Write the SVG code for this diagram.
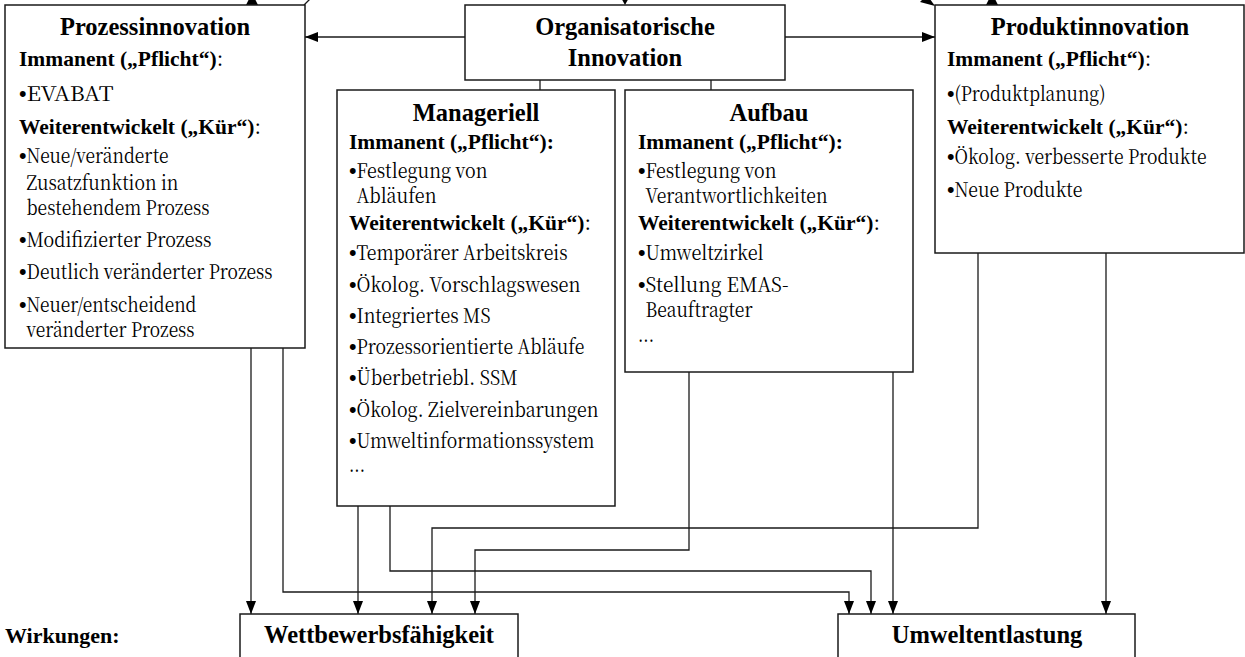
<svg xmlns="http://www.w3.org/2000/svg" width="1245" height="657" viewBox="0 0 1245 657">
<style>
.box{fill:#fff;stroke:#1a1a1a;stroke-width:1.5}
.ln{fill:none;stroke:#1a1a1a;stroke-width:1.3}
.t{font-family:"Liberation Serif",serif;font-size:24.5px;font-weight:bold;text-anchor:middle}
.h{font-family:"Liberation Serif",serif;font-size:21.5px;font-weight:bold}
.b{font-family:"Noto Serif CJK SC","Liberation Serif",serif;font-size:20px;font-weight:400}
.bu{font-family:"Liberation Sans",sans-serif;font-size:21.5px}
.n{font-family:"Noto Serif CJK SC","Liberation Serif",serif;font-weight:400;font-size:20px}
</style>
<defs>
<marker id="ah" markerWidth="13" markerHeight="10" refX="13" refY="5" orient="auto" markerUnits="userSpaceOnUse">
<path d="M0,0 L13,5 L0,10 Z" fill="#000"/>
</marker>
</defs>
<rect width="1245" height="657" fill="#fff"/>

<g id="connectors">
<polygon points="246,5 258,5 252,-7" fill="#000"/>
<line class="ln" x1="304" y1="5" x2="312" y2="-3"/>
<polygon points="619,-6 631,-6 625,5" fill="#000"/>
<polygon points="986,5 998,5 992,-7" fill="#000"/>
<polygon points="935,6 920,2 927,-5" fill="#000"/>
<line class="ln" x1="465" y1="37" x2="305" y2="37" marker-end="url(#ah)"/>
<line class="ln" x1="785" y1="37" x2="935" y2="37" marker-end="url(#ah)"/>
<line class="ln" x1="540" y1="80" x2="540" y2="90"/>
<line class="ln" x1="711" y1="80" x2="711" y2="90"/>
<path class="ln" d="M251,348 V614" marker-end="url(#ah)"/>
<path class="ln" d="M358,506 V614" marker-end="url(#ah)"/>
<path class="ln" d="M978,253 V528 H432 V614" marker-end="url(#ah)"/>
<path class="ln" d="M689,372 V550 H475 V614" marker-end="url(#ah)"/>
<path class="ln" d="M283,348 V592 H849 V614" marker-end="url(#ah)"/>
<path class="ln" d="M390,506 V571 H871 V614" marker-end="url(#ah)"/>
<path class="ln" d="M893,372 V614" marker-end="url(#ah)"/>
<path class="ln" d="M1106,253 V614" marker-end="url(#ah)"/>
</g>

<g id="prozess">
<rect class="box" x="5" y="5" width="300" height="343"/>
<text class="t" x="155" y="35">Prozessinnovation</text>
<text class="h" x="19" y="66">Immanent („Pflicht“)<tspan class="n">:</tspan></text>
<text class="b"><tspan class="bu" x="19" y="101">•</tspan><tspan x="26.5" y="101" textLength="87" lengthAdjust="spacingAndGlyphs">EVABAT</tspan></text>
<text class="h" x="19" y="134">Weiterentwickelt („Kür“)<tspan class="n">:</tspan></text>
<text class="b"><tspan class="bu" x="19" y="163">•</tspan><tspan x="26.5" y="163" textLength="142" lengthAdjust="spacingAndGlyphs">Neue/veränderte</tspan><tspan x="26.5" y="190" textLength="152" lengthAdjust="spacingAndGlyphs">Zusatzfunktion in</tspan><tspan x="26.5" y="215" textLength="183" lengthAdjust="spacingAndGlyphs">bestehendem Prozess</tspan></text>
<text class="b"><tspan class="bu" x="19" y="247">•</tspan><tspan x="26.5" y="247" textLength="185" lengthAdjust="spacingAndGlyphs">Modifizierter Prozess</tspan></text>
<text class="b"><tspan class="bu" x="19" y="279">•</tspan><tspan x="26.5" y="279" textLength="246" lengthAdjust="spacingAndGlyphs">Deutlich veränderter Prozess</tspan></text>
<text class="b"><tspan class="bu" x="19" y="312">•</tspan><tspan x="26.5" y="312" textLength="170" lengthAdjust="spacingAndGlyphs">Neuer/entscheidend</tspan><tspan x="26.5" y="337" textLength="168" lengthAdjust="spacingAndGlyphs">veränderter Prozess</tspan></text>
</g>

<g id="org">
<rect class="box" x="465" y="5" width="320" height="75"/>
<text class="t" x="625" y="35">Organisatorische</text>
<text class="t" x="625" y="66">Innovation</text>
</g>

<g id="manageriell">
<rect class="box" x="337" y="90" width="278" height="416"/>
<text class="t" x="476" y="121">Manageriell</text>
<text class="h" x="349" y="149">Immanent („Pflicht“):</text>
<text class="b"><tspan class="bu" x="349" y="178">•</tspan><tspan x="356.5" y="178" textLength="131" lengthAdjust="spacingAndGlyphs">Festlegung von</tspan><tspan x="356.5" y="203" textLength="80" lengthAdjust="spacingAndGlyphs">Abläufen</tspan></text>
<text class="h" x="349" y="230">Weiterentwickelt („Kür“)<tspan class="n">:</tspan></text>
<text class="b"><tspan class="bu" x="349" y="260">•</tspan><tspan x="356.5" y="260" textLength="211" lengthAdjust="spacingAndGlyphs">Temporärer Arbeitskreis</tspan></text>
<text class="b"><tspan class="bu" x="349" y="292">•</tspan><tspan x="356.5" y="292" textLength="224" lengthAdjust="spacingAndGlyphs">Ökolog. Vorschlagswesen</tspan></text>
<text class="b"><tspan class="bu" x="349" y="323">•</tspan><tspan x="356.5" y="323" textLength="134" lengthAdjust="spacingAndGlyphs">Integriertes MS</tspan></text>
<text class="b"><tspan class="bu" x="349" y="354">•</tspan><tspan x="356.5" y="354" textLength="228" lengthAdjust="spacingAndGlyphs">Prozessorientierte Abläufe</tspan></text>
<text class="b"><tspan class="bu" x="349" y="385">•</tspan><tspan x="356.5" y="385" textLength="161" lengthAdjust="spacingAndGlyphs">Überbetriebl. SSM</tspan></text>
<text class="b"><tspan class="bu" x="349" y="417">•</tspan><tspan x="356.5" y="417" textLength="242" lengthAdjust="spacingAndGlyphs">Ökolog. Zielvereinbarungen</tspan></text>
<text class="b"><tspan class="bu" x="349" y="448">•</tspan><tspan x="356.5" y="448" textLength="238" lengthAdjust="spacingAndGlyphs">Umweltinformationssystem</tspan><tspan x="349" y="472" textLength="16" lengthAdjust="spacingAndGlyphs">...</tspan></text>
</g>

<g id="aufbau">
<rect class="box" x="625" y="90" width="288" height="282"/>
<text class="t" x="769" y="121">Aufbau</text>
<text class="h" x="638" y="149">Immanent („Pflicht“):</text>
<text class="b"><tspan class="bu" x="638" y="178">•</tspan><tspan x="645.5" y="178" textLength="131" lengthAdjust="spacingAndGlyphs">Festlegung von</tspan><tspan x="645.5" y="203" textLength="182" lengthAdjust="spacingAndGlyphs">Verantwortlichkeiten</tspan></text>
<text class="h" x="638" y="230">Weiterentwickelt („Kür“)<tspan class="n">:</tspan></text>
<text class="b"><tspan class="bu" x="638" y="260">•</tspan><tspan x="645.5" y="260" textLength="118" lengthAdjust="spacingAndGlyphs">Umweltzirkel</tspan></text>
<text class="b"><tspan class="bu" x="638" y="292">•</tspan><tspan x="645.5" y="292" textLength="143" lengthAdjust="spacingAndGlyphs">Stellung EMAS-</tspan><tspan x="645.5" y="317" textLength="107" lengthAdjust="spacingAndGlyphs">Beauftragter</tspan><tspan x="638" y="342" textLength="16" lengthAdjust="spacingAndGlyphs">...</tspan></text>
</g>

<g id="produkt">
<rect class="box" x="935" y="5" width="309" height="248"/>
<text class="t" x="1090" y="35">Produktinnovation</text>
<text class="h" x="947" y="66">Immanent („Pflicht“)<tspan class="n">:</tspan></text>
<text class="b"><tspan class="bu" x="947" y="101">•</tspan><tspan x="954.5" y="101" textLength="151" lengthAdjust="spacingAndGlyphs">(Produktplanung)</tspan></text>
<text class="h" x="947" y="134">Weiterentwickelt („Kür“)<tspan class="n">:</tspan></text>
<text class="b"><tspan class="bu" x="947" y="164">•</tspan><tspan x="954.5" y="164" textLength="252" lengthAdjust="spacingAndGlyphs">Ökolog. verbesserte Produkte</tspan></text>
<text class="b"><tspan class="bu" x="947" y="197">•</tspan><tspan x="954.5" y="197" textLength="128" lengthAdjust="spacingAndGlyphs">Neue Produkte</tspan></text>
</g>

<g id="wirkungen">
<text class="h" x="5" y="643" style="font-size:22px">Wirkungen:</text>
</g>

<g id="wettbewerb">
<rect class="box" x="240" y="614" width="278" height="60"/>
<text class="t" x="379" y="643">Wettbewerbsfähigkeit</text>
</g>

<g id="umwelt">
<rect class="box" x="838" y="614" width="297" height="60"/>
<text class="t" x="987" y="643">Umweltentlastung</text>
</g>
</svg>
